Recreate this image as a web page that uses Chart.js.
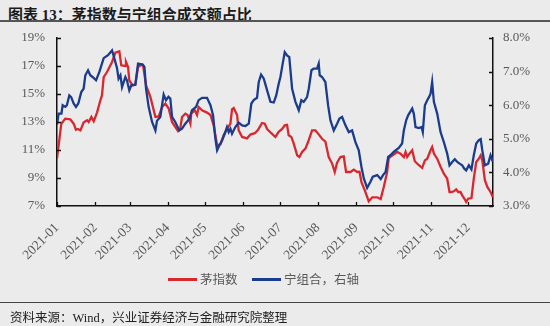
<!DOCTYPE html>
<html>
<head>
<meta charset="utf-8">
<script src="https://cdn.jsdelivr.net/npm/chart.js@4.4.0/dist/chart.umd.min.js"></script>
<style>
  body { margin: 0; background: #ecebec; width: 550px; height: 326px; overflow: hidden; position: relative; }
  #title { position: absolute; left: 8px; top: 3px; font: bold 15px "Liberation Serif", "Noto Sans CJK SC"; color: #1a1a1a; }
  #rule1 { position: absolute; left: 0; top: 20px; width: 550px; height: 1.5px; background: #555; }
  #rule2 { position: absolute; left: 0; top: 302px; width: 550px; height: 1px; background: #444; }
  #source { position: absolute; left: 10px; top: 307px; font: 12.5px "Liberation Serif", "Noto Sans CJK SC"; color: #222; }
  #legend { position: absolute; top: 269px; left: 0; width: 550px; font: 12.5px "Noto Sans CJK SC"; color: #595959; }
  .item { position: absolute; top: 0; white-space: nowrap; }
  .swatch { display: inline-block; width: 29px; height: 2.5px; vertical-align: middle; margin-right: 3px; position: relative; top: -1px; }
  canvas { position: absolute; left: 0; top: 0; }
</style>
</head>
<body>
<div id="title">图表 13：茅指数与宁组合成交额占比</div>
<div id="rule1"></div>
<canvas id="chart" width="550" height="326"></canvas>
<div id="legend">
  <div class="item" style="left:168px"><span class="swatch" style="background:#d7282f"></span>茅指数</div>
  <div class="item" style="left:252px"><span class="swatch" style="background:#1b3c8c"></span>宁组合，右轴</div>
</div>
<div id="rule2"></div>
<div id="source">资料来源：Wind，兴业证券经济与金融研究院整理</div>
<script>
// day of year (0 = 2021-01-01)
const monthTicks = [0, 31, 59, 90, 120, 151, 181, 212, 243, 273, 304, 334];
const monthLabels = ["2021-01", "2021-02", "2021-03", "2021-04", "2021-05", "2021-06",
                     "2021-07", "2021-08", "2021-09", "2021-10", "2021-11", "2021-12"];

// 茅指数 (left axis, %)
const maoDays = [0, 3.5, 6.7, 10.8, 13.5, 15.4, 17, 19, 21.6, 24.4, 25.7, 27.9, 29.8, 32.5, 35.2, 36.5, 37.9, 40.6, 44.7, 47.4,
  50.6, 52.2, 55.5, 56, 57.7, 58.7, 61.4, 63.6, 65.8, 69, 70, 72.3, 75.8, 79.9, 82.6, 85.3, 88, 90.7, 93.4, 96.1,
  98.3, 100, 101.5, 104.2, 106, 108.3, 109, 111.8, 113.7, 115, 117.8, 121.8, 124.6, 127.2, 130, 132.7, 135.3, 138, 140.8, 142.1,
  143.5, 146.2, 147.5, 150.3, 154.3, 157, 160.6, 163.3, 166.5, 168.7, 170.6, 174, 177.3, 180, 182.8, 184.9, 186.8, 188.1, 190.3, 192.2,
  195, 196.8, 199, 201.7, 204.4, 207.1, 209.8, 212, 215.2, 217.9, 220.6, 223.4, 225.5, 227.4, 230.1, 232.8, 234.7, 238.3, 241, 243.7,
  245.6, 247.2, 249.9, 253.1, 256, 260, 262.8, 265.3, 268, 269.4, 272.1, 276.2, 278.9, 281.6, 283, 284.3, 286.2, 288.4, 290.5, 293.8,
  296.5, 298.7, 300.6, 303.3, 304.6, 306, 308.7, 311.4, 314.1, 316.8, 318.7, 320.4, 322.2, 324.1, 325.7, 327.6, 329, 331.1, 332.2, 333.8,
  336.5, 338.4, 340.4, 342.5, 344, 345.3, 347.4, 349.4, 352, 353.9];
const maoValues = [10.39, 12.88, 13.24, 13.19, 12.88, 12.45, 12.5, 12.4, 12.96, 13.12, 13.0, 13.36, 13.05, 13.67, 14.55, 14.9, 16.21, 16.57, 17.29, 17.96,
  18.05, 17.05, 17.0, 17.3, 16.93, 15.98, 15.62, 15.67, 16.93, 17.1, 17.0, 15.62, 14.79, 13.36, 13.4, 14.07, 14.31, 13.96, 13.0, 12.64,
  12.34, 12.5, 13.36, 13.6, 13.5, 12.89, 13.6, 13.84, 13.5, 14.07, 13.84, 13.67, 13.5, 12.76, 11.34, 11.4, 12.05, 12.5, 12.89, 13.9,
  14.0, 13.5, 12.4, 11.93, 11.83, 12.1, 12.2, 12.45, 12.93, 12.88, 12.5, 12.2, 11.93, 12.3, 12.5, 12.76, 12.8, 12.05, 11.93, 11.46,
  10.62, 10.5, 10.86, 11.1, 11.7, 12.4, 12.4, 12.17, 11.8, 11.6, 10.5, 10.03, 9.43, 10.1, 10.5, 10.55, 9.43, 9.43, 9.6, 9.43,
  9.45, 8.71, 8.12, 7.34, 7.62, 7.62, 7.5, 8.36, 9.4, 10.43, 10.6, 10.86, 10.74, 10.5, 10.86, 10.5, 10.74, 10.98, 10.2, 9.91,
  9.72, 10.26, 10.38, 10.98, 11.21, 10.74, 10.38, 9.8, 9.31, 8.95, 8.0, 8.0, 8.05, 8.19, 8.0, 8.0, 7.76, 7.48, 7.29, 7.52,
  7.57, 8.95, 10.14, 10.38, 10.62, 10.26, 8.84, 8.36, 8.0, 7.64];

// 宁组合 (right axis, %)
const ningDays = [0, 1.3, 3.6, 4.6, 6.8, 8, 10, 11.5, 13.5, 15.4, 17.3, 19.7, 21.6, 23, 25.2, 27, 28.9, 31.7, 34.4, 37.9,
  41.4, 44.7, 46, 48.7, 50, 51.5, 52.8, 55.5, 56.8, 58.7, 60.3, 63.6, 65.8, 69.6, 71, 72.3, 74.4, 77.2, 79.9, 81.2,
  83.9, 85.3, 86.6, 88.5, 90.5, 92, 93.4, 96, 99.3, 101.5, 104.2, 107.5, 109.6, 112.9, 115, 117.8, 121.8, 124.6, 126.7, 128.6,
  130, 131.8, 134, 136.2, 138, 139.4, 140.8, 142.1, 144.8, 147.5, 150.3, 153, 155.7, 157.8, 159.7, 162.4, 163.8, 165.7, 167.9, 170.6,
  173.3, 176, 178, 180, 181.4, 182.8, 184.9, 186.8, 188.6, 190.9, 193.6, 196.3, 198.4, 200.3, 203, 204.4, 206.6, 208.4, 211.1, 212.5,
  213.3, 215.2, 217.9, 220.1, 222, 224.7, 227.4, 229.3, 231.5, 234.2, 236.9, 239.6, 242.3, 245, 247.2, 249.1, 251.8, 254.5, 256.4, 260,
  262.8, 264.7, 266.8, 268.9, 270.7, 273.4, 277.5, 280.2, 281.6, 283.5, 285.1, 288.4, 289.7, 291.1, 293.8, 296, 297, 298.7, 300.6, 302,
  303.3, 304.6, 306, 308.7, 311.4, 314.1, 316.8, 318.7, 320.9, 323, 325, 326.9, 329, 330.7, 332.2, 334.4, 336.5, 338.4, 340.4, 342.5,
  344, 345.3, 347.4, 350.1, 352, 353.9];
const ningValues = [5.42, 5.75, 5.75, 6.0, 5.95, 6.0, 6.29, 6.24, 6.05, 5.95, 6.05, 6.39, 6.49, 6.89, 7.04, 6.89, 6.84, 6.74, 6.99, 7.40,
  7.49, 7.63, 7.47, 7.11, 6.79, 6.89, 6.54, 6.84, 6.74, 6.44, 6.59, 6.61, 7.24, 7.21, 7.14, 6.49, 5.95, 5.50, 5.25, 5.54,
  5.65, 6.0, 6.32, 6.15, 6.25, 6.2, 5.65, 5.5, 5.25, 5.3, 5.45, 5.6, 5.85, 5.95, 6.15, 6.22, 6.22, 6.0, 5.70, 5.0,
  4.66, 4.8, 4.95, 5.15, 5.35, 5.2, 5.3, 5.15, 5.35, 5.48, 5.4, 5.38, 5.45, 6.05, 6.15, 6.22, 6.69, 6.91, 6.79, 6.44,
  6.10, 6.08, 6.29, 6.64, 6.84, 7.14, 7.58, 7.48, 7.43, 6.49, 6.10, 5.85, 6.15, 6.10, 6.24, 6.49, 7.04, 7.09, 7.09, 7.24,
  6.89, 6.84, 6.69, 6.0, 5.55, 5.25, 5.45, 5.6, 5.65, 5.4, 5.2, 5.25, 4.9, 4.66, 4.16, 3.82, 3.54, 3.72, 3.87, 3.92,
  3.80, 3.92, 4.01, 4.46, 4.51, 4.61, 4.73, 4.86, 5.25, 5.55, 5.7, 5.9, 5.75, 5.35, 5.32, 5.35, 5.2, 6.0, 6.15, 6.24,
  6.34, 6.69, 6.10, 5.75, 5.2, 4.9, 4.56, 4.21, 4.31, 4.39, 4.31, 4.26, 4.21, 4.11, 4.06, 4.21, 4.09, 4.51, 4.86, 4.96,
  4.99, 4.66, 4.21, 4.26, 4.51, 4.31];

const tickFont = { family: "Liberation Serif", size: 13 };
const tickColor = "#595959";

// small tick marks that point into the plot
const innerTicks = {
  id: "innerTicks",
  afterDraw(chart) {
    const ctx = chart.ctx;
    const area = chart.chartArea;
    ctx.save();
    ctx.strokeStyle = "#111";
    ctx.lineWidth = 1.3;
    ctx.beginPath();
    chart.scales.y.ticks.forEach(t => {
      const y = Math.round(chart.scales.y.getPixelForValue(t.value)) + 0.5;
      ctx.moveTo(area.left, y); ctx.lineTo(area.left + 4, y);
    });
    chart.scales.y1.ticks.forEach(t => {
      const y = Math.round(chart.scales.y1.getPixelForValue(t.value)) + 0.5;
      ctx.moveTo(area.right, y); ctx.lineTo(area.right - 4, y);
    });
    chart.scales.x.ticks.forEach(t => {
      const x = Math.round(chart.scales.x.getPixelForValue(t.value)) + 0.5;
      ctx.moveTo(x, area.bottom); ctx.lineTo(x, area.bottom - 4);
    });
    ctx.stroke();
    ctx.restore();
  }
};

new Chart(document.getElementById("chart"), {
  type: "line",
  data: {
    datasets: [
      {
        label: "茅指数",
        data: maoDays.map((d, i) => ({ x: d, y: maoValues[i] })),
        borderColor: "#d7282f",
        borderWidth: 2.3,
        pointRadius: 0,
        tension: 0,
        yAxisID: "y",
        order: 2
      },
      {
        label: "宁组合，右轴",
        data: ningDays.map((d, i) => ({ x: d, y: ningValues[i] })),
        borderColor: "#1b3c8c",
        borderWidth: 2.3,
        pointRadius: 0,
        tension: 0,
        yAxisID: "y1",
        order: 1
      }
    ]
  },
  options: {
    responsive: false,
    animation: false,
    devicePixelRatio: 1,
    layout: { padding: { top: 38, left: 0, right: 0, bottom: 0 } },
    plugins: { legend: { display: false }, tooltip: { enabled: false } },
    scales: {
      x: {
        type: "linear",
        min: 0,
        max: 354,
        afterBuildTicks: scale => { scale.ticks = monthTicks.map(v => ({ value: v })); },
        afterFit: scale => { scale.height = 120; },
        grid: { display: false, drawTicks: false },
        border: { display: true, color: "#111", width: 1.5 },
        ticks: {
          autoSkip: false,
          minRotation: 45,
          maxRotation: 45,
          padding: 14,
          font: { family: "Liberation Serif", size: 13.5 },
          color: tickColor,
          callback: v => monthLabels[monthTicks.indexOf(v)]
        }
      },
      y: {
        position: "left",
        min: 7,
        max: 19,
        afterFit: scale => { scale.width = 57; },
        grid: { display: false, drawTicks: false },
        border: { display: true, color: "#111", width: 1.5 },
        ticks: { stepSize: 2, padding: 12, font: tickFont, color: tickColor, callback: v => v + "%" }
      },
      y1: {
        position: "right",
        min: 3,
        max: 8,
        afterFit: scale => { scale.width = 57; },
        grid: { display: false, drawTicks: false },
        border: { display: true, color: "#111", width: 1.5 },
        ticks: { stepSize: 0.5, padding: 10, font: tickFont, color: tickColor, callback: v => v.toFixed(1) + "%" }
      }
    }
  },
  plugins: [innerTicks]
});
</script>
</body>
</html>
